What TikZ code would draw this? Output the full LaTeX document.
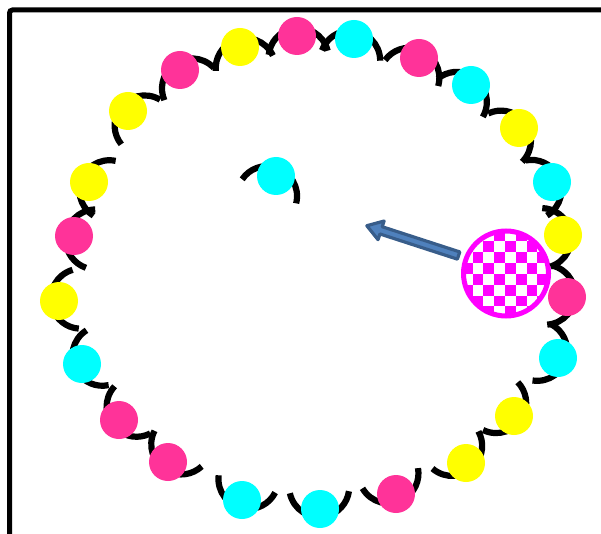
\documentclass[tikz,border=0pt]{standalone}
\usetikzlibrary{calc}
\definecolor{rose}{HTML}{FF3399}
\definecolor{aqua}{HTML}{00FFFF}
\definecolor{lemon}{HTML}{FFFF00}
\definecolor{fuchsia}{HTML}{FF00FF}
\definecolor{arrowfill}{HTML}{4F81BD}
\definecolor{arrowline}{HTML}{385D8A}
% ring of beads: x/y/colour/facing angle
\def\beadlist{297/497/rose/94, 354/494/aqua/80, 419/475/rose/64, 471/448/aqua/50,
  519/405/lemon/35, 552/351/aqua/21, 563/298/lemon/8, 567/236/rose/-6,
  558/175/aqua/-19, 514/117/lemon/-36, 466/70/lemon/-51, 396/39/rose/-70,
  320/24/aqua/-88, 242/33/aqua/-107, 168/71/rose/-127, 119/113/rose/-143,
  82/169/aqua/-158, 59/232/lemon/-174, 74/297/rose/171, 89/351/lemon/158,
  128/422/lemon/139, 180/463/rose/123, 240/486/lemon/105}

\begin{document}
\begin{tikzpicture}[x=1pt,y=1pt,
  bead/.style={circle, inner sep=0pt, minimum size=38pt, draw=none},
  hook/.style={line width=6.2pt},
  blockarrow/.style={draw=arrowline, fill=arrowfill, line width=3.2pt, line join=round}]
  \useasboundingbox (0,0) rectangle (601,533);
  % frame
  \draw[line width=5pt, rounded corners=3pt] (9.5,-20) -- (9.5,523) -- (630,523);
  % A: checkered disc
  \node[circle, inner sep=0pt, minimum size=85pt, fill=white] (chk) at (506,259.5) {};
  \begin{scope}
    \clip (chk.center) circle (42.5pt);
    \foreach \i in {-4,-2,...,6} \foreach \j in {-6,-4,...,2} {
      \fill[fuchsia] ([shift={(-22.7+\i*10.8, 21.2+\j*10.8)}]chk.center) rectangle ++(10.8,10.8);
      \fill[fuchsia] ([shift={(-11.9+\i*10.8, 32+\j*10.8)}]chk.center) rectangle ++(10.8,10.8);
    }
  \end{scope}
  \draw[fuchsia, line width=5pt] (chk.center) circle (42.5pt);
  % B: hooks, then beads on top
  \foreach \x/\y/\c/\a in \beadlist
    \draw[hook] (\x,\y) ++(\a+180:22pt) ++(\a-80:30pt) arc[start angle=\a-80, end angle=\a+80, radius=30pt];
  \draw[hook] (276,357) ++(246:22pt) ++(-14:30pt) arc[start angle=-14, end angle=146, radius=30pt];
  \foreach \x/\y/\c/\a [count=\i] in \beadlist
    \node[bead, fill=\c] (m\i) at (\x,\y) {};
  \node[bead, fill=aqua] (loose) at (276,357) {};
  % C: arrow out of the disc
  \coordinate (tail) at (460,277);
  \begin{scope}[shift={(tail)}, rotate=162]
    \draw[blockarrow] (1.5,-3.8) -- (83,-3.8) -- (83,-9.8) -- (98,0) -- (83,9.8) -- (83,3.8) -- (1.5,3.8) -- cycle;
  \end{scope}
\end{tikzpicture}
\end{document}
